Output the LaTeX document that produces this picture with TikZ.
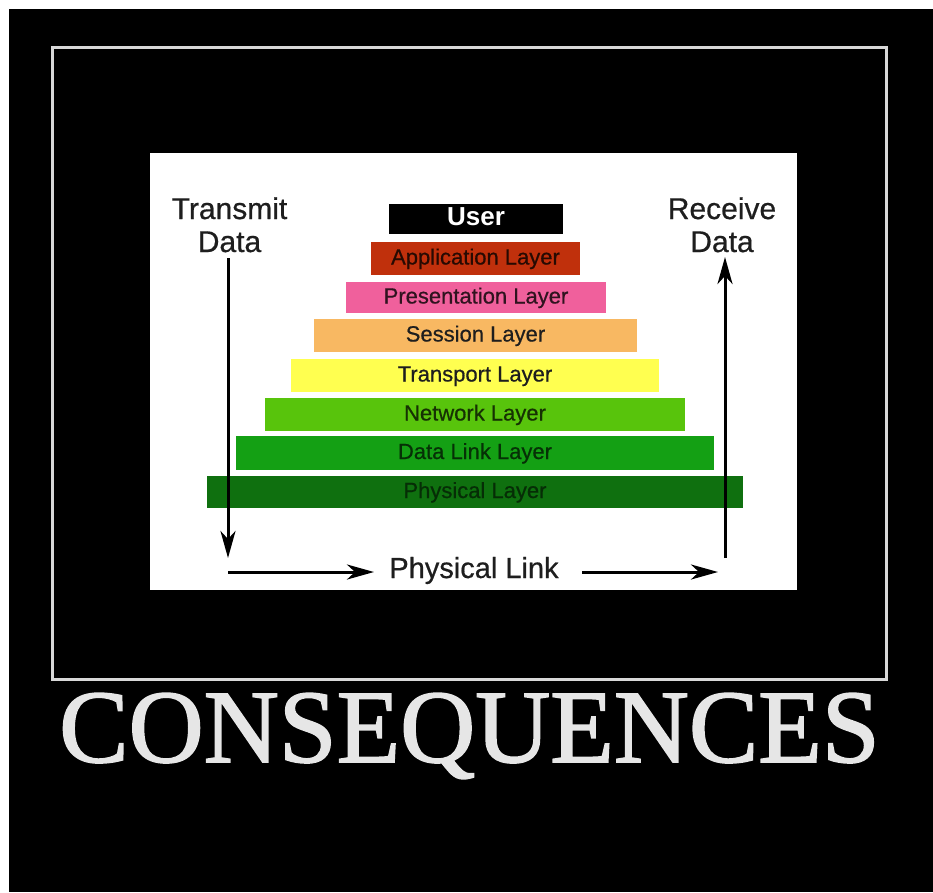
\documentclass[tikz,border=0pt]{standalone}
\usepackage{fontspec}
\setmainfont{Liberation Sans}
\newfontfamily\posterfont[FakeBold=1.6]{Liberation Serif}
\newfontfamily\heavysans[FakeBold=0.6]{Liberation Sans}
\usetikzlibrary{arrows.meta}
\definecolor{appred}{HTML}{C0300C}
\definecolor{prespink}{HTML}{F0609C}
\definecolor{sessorange}{HTML}{F8B862}
\definecolor{transyellow}{HTML}{FFFF50}
\definecolor{netgreen}{HTML}{58C40C}
\definecolor{dlgreen}{HTML}{14A014}
\definecolor{phygreen}{HTML}{0F700F}
\definecolor{framegray}{HTML}{D8D8D8}
\definecolor{titlegray}{HTML}{E6E6E6}
\definecolor{labeldark}{HTML}{1E1E1E}
\begin{document}
\begin{tikzpicture}[x=1pt,y=-1pt,
  layerbox/.style={draw=none, inner sep=0pt, text height=16pt, text depth=4pt,
                   font=\heavysans\fontsize{22}{22}\selectfont, text=labeldark},
  sidelabel/.style={font=\heavysans\fontsize{30}{30}\selectfont, text=labeldark, anchor=base},
  flow/.style={line width=3pt, draw=black, -{Stealth[length=27pt,width=15pt,inset=8pt]}}]
\useasboundingbox (0,0) rectangle (933,892);
\fill[white] (0,0) rectangle (933,892);
\fill[black] (9,9) rectangle (933,892);
\draw[framegray, line width=3pt] (52,47) rectangle (886,679);
\fill[white] (150,153) rectangle (797,590);

% layers
\node[layerbox, fill=black, minimum width=174pt, minimum height=30pt, text=white,
      text height=18pt, text depth=5pt,
      font=\bfseries\fontsize{26}{26}\selectfont] (user) at (476,219) {User};
\node[layerbox, fill=appred, minimum width=209pt, minimum height=33pt, text={black!80!appred}] (app) at (475.5,258.5) {Application Layer};
\node[layerbox, fill=prespink, minimum width=260pt, minimum height=31pt, text={black!80!prespink}] (pres) at (476,297.5) {Presentation Layer};
\node[layerbox, fill=sessorange, minimum width=323pt, minimum height=33pt] (sess) at (475.5,335.5) {Session Layer};
\node[layerbox, fill=transyellow, minimum width=368pt, minimum height=33pt] (trans) at (475,375.5) {Transport Layer};
\node[layerbox, fill=netgreen, minimum width=420pt, minimum height=33pt, text={black!75!netgreen}] (net) at (475,414.5) {Network Layer};
\node[layerbox, fill=dlgreen, minimum width=478pt, minimum height=34pt, text={black!70!dlgreen}] (dl) at (475,453) {Data Link Layer};
\node[layerbox, fill=phygreen, minimum width=536pt, minimum height=32pt, text={black!60!phygreen}] (phy) at (475,492) {Physical Layer};

% side labels
\node[sidelabel] (tx1) at (229.5,219) {Transmit};
\node[sidelabel] (tx2) at (229.5,252) {Data};
\node[sidelabel] (rx1) at (722,219) {Receive};
\node[sidelabel] (rx2) at (722,252) {Data};
\node[sidelabel, font=\heavysans\fontsize{29}{29}\selectfont] (plink) at (474,578) {Physical Link};

% arrows
\coordinate (txs) at (228,258);
\coordinate (txe) at (228,558);
\coordinate (bl) at (228,572);
\coordinate (blend) at (374,572);
\coordinate (br) at (582,572);
\coordinate (brend) at (718,572);
\coordinate (rxs) at (725,558);
\coordinate (rxe) at (725,257);
\draw[flow] (txs) -- (txe);
\draw[flow] (bl) -- (blend);
\draw[flow] (br) -- (brend);
\draw[flow] (rxs) -- (rxe);

% title
\node[text=titlegray, font=\posterfont\fontsize{104}{104}\selectfont, anchor=base] (title) at (469.5,762) {CONSEQUENCES};
\end{tikzpicture}
\end{document}
